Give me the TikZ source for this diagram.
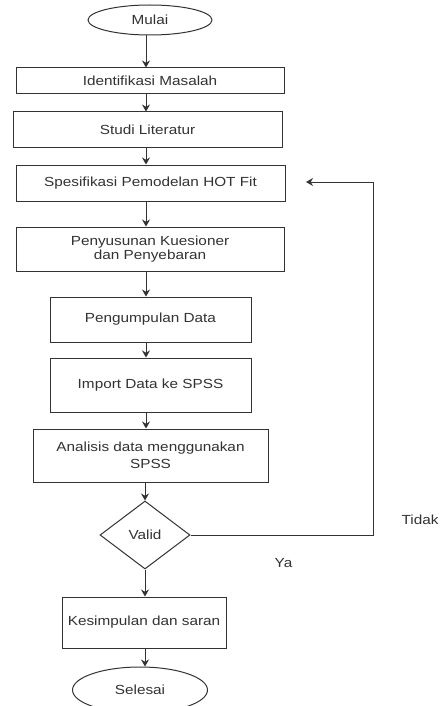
\documentclass[tikz,border=0pt]{standalone}
\usepackage{fontspec}
\setmainfont{Liberation Sans}[FakeStretch=1.16]
\usetikzlibrary{shapes.geometric,arrows.meta}
\begin{document}
\begin{tikzpicture}[x=1pt,y=-1pt,
  every node/.style={font=\fontsize{13.2}{13.8}\selectfont, text=black!80},
  box/.style={draw=black!80, line width=1pt, rectangle, inner sep=0pt, align=center},
  term/.style={draw=black!80, line width=1pt, ellipse, inner sep=0pt},
  dec/.style={draw=black!80, line width=1pt, diamond, inner sep=0pt, aspect=1.32},
  arr/.style={draw=black!80, line width=1pt, -{Stealth[length=7pt,width=8pt]}},
  lbl/.style={inner sep=0pt}]
\useasboundingbox (0,0) rectangle (441,706);
\fill[white] (0,0) rectangle (441,706);

\node[term, minimum width=124pt, minimum height=30pt] (mulai) at (150,20) {Mulai};
\node[box, minimum width=268pt, minimum height=26pt] (ident) at (150,81) {Identifikasi Masalah};
\node[box, minimum width=269pt, minimum height=35pt] (studi) at (147.5,129.5) {Studi Literatur};
\node[box, minimum width=269pt, minimum height=36pt] (spek) at (150.5,183) {Spesifikasi Pemodelan HOT Fit};
\node[box, minimum width=268pt, minimum height=44pt] (susun) at (150,249) {Penyusunan Kuesioner\\ dan Penyebaran};
\node[box, minimum width=201pt, minimum height=45pt] (kumpul) at (150.5,319.5) {Pengumpulan Data};
\node[box, minimum width=201pt, minimum height=54pt] (impor) at (150.5,385) {Import Data ke SPSS};
\node[box, minimum width=235pt, minimum height=53pt, font=\fontsize{13.2}{16.5}\selectfont] (anal) at (150.5,455.5) {Analisis data menggunakan\\ SPSS};
\node[dec, minimum width=90pt, minimum height=68pt] (valid) at (145,535) {Valid};
\node[box, minimum width=164pt, minimum height=51pt] (simpul) at (144,622.5) {Kesimpulan dan saran};
\node[term, minimum width=135pt, minimum height=46pt] (selesai) at (140,690) {Selesai};

\node[lbl] (tidak) at (420,520) {Tidak};
\node[lbl] (ya) at (283.5,563) {Ya};

\coordinate (ax) at (146,0);
\coordinate (fbc) at (373,182);
\coordinate (fbend) at (306,182);

\draw[arr] (mulai.south -| ax) -- (ident.north -| ax);
\draw[arr] (ident.south -| ax) -- (studi.north -| ax);
\draw[arr] (studi.south -| ax) -- (spek.north -| ax);
\draw[arr] (spek.south -| ax) -- (susun.north -| ax);
\draw[arr] (susun.south -| ax) -- (kumpul.north -| ax);
\draw[arr] (kumpul.south -| ax) -- (impor.north -| ax);
\draw[arr] (impor.south -| ax) -- (anal.north -| ax);
\draw[arr] (anal.south -| valid.north) -- (valid.north);
\draw[arr] (valid.south) -- (simpul.north -| valid.south);
\draw[arr] (simpul.south -| valid.south) -- (selesai.north -| valid.south);
\draw[arr] (valid.east) -- (valid.east -| fbc) -- (fbc) -- (fbend);
\end{tikzpicture}
\end{document}
